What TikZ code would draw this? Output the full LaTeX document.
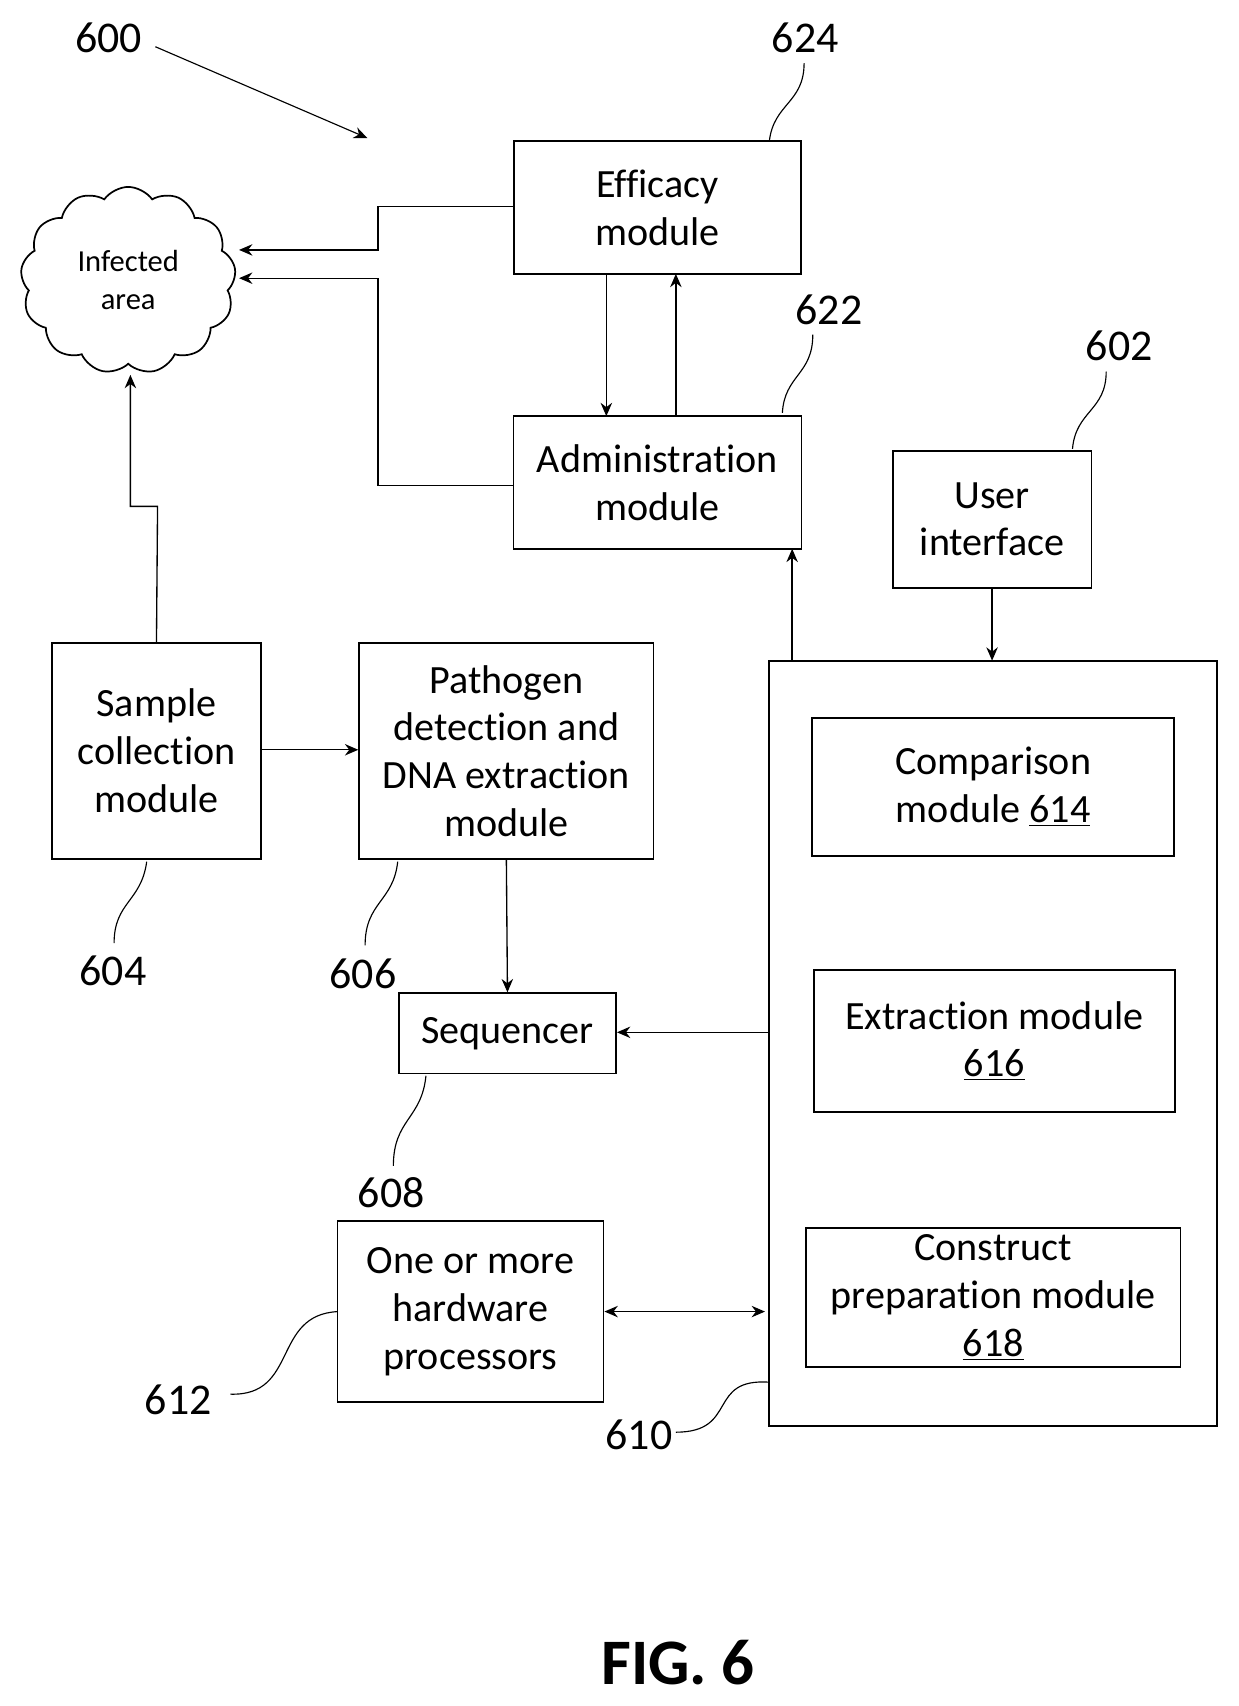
\documentclass[tikz,border=0pt]{standalone}
\usepackage{fontspec}
\setmainfont{Carlito}[Ligatures={NoCommon,NoContextual}]
\usetikzlibrary{shapes.symbols,arrows.meta}
\begin{document}
\begin{tikzpicture}[x=0.02cm,y=-0.02cm,
  box/.style={draw,line width=0.9pt,align=center,font=\fontsize{21}{25}\selectfont,inner sep=0pt},
  lbl/.style={font=\fontsize{23}{27}\selectfont},
  arr/.style={-{Stealth[length=7pt,width=6pt]},line width=0.7pt},
  ld/.style={line width=0.6pt}]
\useasboundingbox (0,0) rectangle (1140,1570);
\node[box,minimum width=264*0.02cm,minimum height=122*0.02cm] (eff) at (605,191) {Efficacy\\module};
\node[box,minimum width=265*0.02cm,minimum height=122*0.02cm] (adm) at (605,444) {Administration\\module};
\node[box,minimum width=183*0.02cm,minimum height=126*0.02cm] (ui) at (913,478) {User\\interface};
\node[draw,line width=0.9pt,minimum width=412*0.02cm,minimum height=704*0.02cm] (big) at (914,960) {};
\node[box,minimum width=333*0.02cm,minimum height=127*0.02cm] (cmp) at (914,724) {Comparison\\module \underline{614}};
\node[box,minimum width=332*0.02cm,minimum height=131*0.02cm] (ext) at (915,958) {Extraction module\\\underline{616}};
\node[box,minimum width=345*0.02cm,minimum height=128*0.02cm] (con) at (914,1194) {Construct\\preparation module\\\underline{618}};
\node[box,minimum width=192*0.02cm,minimum height=199*0.02cm] (smp) at (144,691) {Sample\\collection\\module};
\node[box,minimum width=271*0.02cm,minimum height=199*0.02cm] (pat) at (466,691) {Pathogen\\detection and\\DNA extraction\\module};
\node[box,minimum width=200*0.02cm,minimum height=74*0.02cm] (seq) at (467,951) {Sequencer};
\node[box,minimum width=245*0.02cm,minimum height=167*0.02cm] (proc) at (433,1207) {One or more\\hardware\\processors};
\node[cloud,draw,line width=0.9pt,cloud puffs=13,cloud puff arc=110,aspect=1.1,minimum width=198*0.02cm,minimum height=172*0.02cm,align=center,font=\fontsize{16}{20}\selectfont] (cl) at (118,258) {Infected\\area};
\coordinate (c1) at (220,230);
\coordinate (c2) at (220,256);
\coordinate (c3) at (120,345);
\draw[arr] (eff.west|-0,190) -- (348,190) -- (348,230) -- (c1);
\draw[arr] (adm.west|-0,447) -- (348,447) -- (348,256) -- (c2);
\draw[arr] (558,252) -- (558,383);
\draw[arr] (622,383) -- (622,252);
\draw[arr] (729,608) -- (729,505);
\draw[arr] (ui.south) -- (913,608);
\draw[arr] (smp.north) -- (145,466) -- (120,466) -- (c3);
\draw[arr] (smp.east|-0,690) -- (pat.west|-0,690);
\draw[arr] (pat.south) -- (seq.north);
\draw[arr] (big.west|-0,950) -- (seq.east|-0,950);
\draw[{Stealth[length=7pt,width=6pt]}-{Stealth[length=7pt,width=6pt]},line width=0.7pt] (proc.east|-0,1207) -- (704,1207);
\node[lbl] (l600) at (100,35) {600};
\coordinate (a600) at (338,127);
\draw[arr,line width=0.6pt] (143,43) -- (a600);
\node[lbl] (l624) at (741,35) {624};
\draw[ld] (708,130) .. controls (712,95) and (740,95) .. (740,58);
\node[lbl] (l622) at (763,285) {622};
\draw[ld] (720,380) .. controls (722,345) and (748,345) .. (748,308);
\node[lbl] (l602) at (1030,318) {602};
\draw[ld] (987,413) .. controls (990,378) and (1018,378) .. (1018,342);
\node[lbl] (l604) at (104,893) {604};
\draw[ld] (135,793) .. controls (130,830) and (105,830) .. (105,868);
\node[lbl] (l606) at (334,896) {606};
\draw[ld] (366,793) .. controls (362,830) and (336,830) .. (336,870);
\node[lbl] (l608) at (360,1098) {608};
\draw[ld] (392,990) .. controls (388,1030) and (362,1030) .. (362,1073);
\node[lbl] (l612) at (164,1288) {612};
\draw[ld] (311,1207) .. controls (250,1210) and (275,1285) .. (212,1283);
\node[lbl] (l610) at (588,1320) {610};
\draw[ld] (708,1272) .. controls (650,1268) and (680,1318) .. (622,1318);
\node[font=\fontsize{34}{40}\selectfont\bfseries] (fig) at (624,1530) {FIG. 6};
\end{tikzpicture}
\end{document}
